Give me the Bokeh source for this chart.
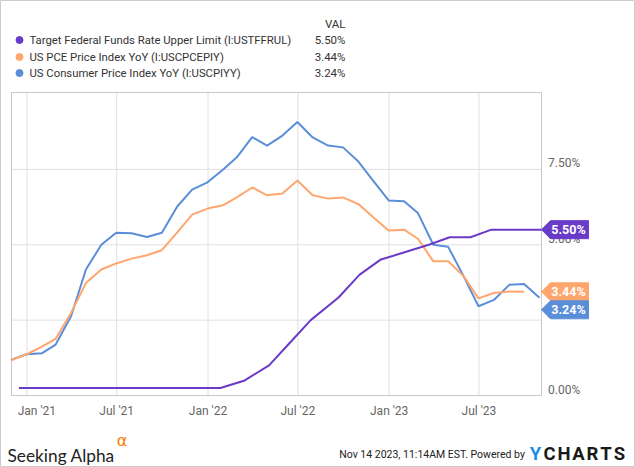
import pandas as pd
from bokeh.plotting import figure
from bokeh.models import Range1d
from bokeh.core.properties import value
from bokeh.embed import file_html
from bokeh.resources import INLINE

# ---------------- data ----------------
cpi_values = [1.18, 1.37, 1.40, 1.69, 2.63, 4.18, 5.00, 5.40, 5.38, 5.26, 5.40, 6.27,
              6.83, 7.07, 7.49, 7.90, 8.57, 8.29, 8.62, 9.07, 8.56, 8.29, 8.23, 7.76,
              7.12, 6.47, 6.44, 6.05, 5.00, 4.93, 3.96, 2.96, 3.17, 3.67, 3.70, 3.24]
pce_values = [1.17, 1.36, 1.62, 1.88, 2.74, 3.73, 4.18, 4.38, 4.54, 4.65, 4.82, 5.41,
              6.00, 6.20, 6.31, 6.57, 6.90, 6.64, 6.70, 7.13, 6.64, 6.53, 6.57, 6.35,
              5.91, 5.47, 5.50, 5.20, 4.45, 4.45, 3.96, 3.22, 3.40, 3.45, 3.44]
month_ends = pd.date_range(start="2020-12-01", periods=36, freq="MS") - pd.Timedelta(days=1)
cpi_dates = list(month_ends)
pce_dates = list(month_ends[:35])

fed_dates = ["2020-12-16", "2021-01-27", "2021-03-17", "2021-04-28", "2021-06-16",
             "2021-07-28", "2021-09-22", "2021-11-03", "2021-12-15", "2022-01-26",
             "2022-03-16", "2022-05-04", "2022-06-15", "2022-07-27", "2022-09-21",
             "2022-11-02", "2022-12-14", "2023-02-01", "2023-03-22", "2023-05-03",
             "2023-06-14", "2023-07-26", "2023-09-20", "2023-11-01"]
fed_values = [0.25, 0.25, 0.25, 0.25, 0.25, 0.25, 0.25, 0.25, 0.25, 0.25,
              0.50, 1.00, 1.75, 2.50, 3.25, 4.00, 4.50, 4.75, 5.00, 5.25,
              5.25, 5.50, 5.50, 5.50]

series_names = ["Target Federal Funds Rate Upper Limit (I:USTFFRUL)",
                "US PCE Price Index YoY (I:USCPCEPIY)",
                "US Consumer Price Index YoY (I:USCPIYY)"]
series_last = ["5.50%", "3.44%", "3.24%"]

y_ticks = [0, 2.5, 5, 7.5]
y_tick_labels = ["0.00%", "2.50%", "5.00%", "7.50%"]
x_tick_dates = ["2021-01-01", "2021-07-01", "2022-01-01", "2022-07-01", "2023-01-01", "2023-07-01"]
x_tick_labels = ["Jan '21", "Jul '21", "Jan '22", "Jul '22", "Jan '23", "Jul '23"]

PURPLE = "#6a3bc9"
ORANGE = "#ffa66e"
BLUE = "#5b8ed9"
GRID = "#e0e0e0"
TXT = "Roboto"


def ms(d):
    return pd.Timestamp(d).value / 1e6


# ---------------- layout (canvas pixels) ----------------
W, H = 635, 467
PL, PR, PT, PB = 11, 541, 92, 395             # plot area inside the canvas
XA, XB = ms("2020-12-01"), ms("2023-11-04")   # dates at plot-area left / right
YA, YB = 0.0, 10.05                           # values at plot-area bottom / top
kx = (XB - XA) / (PR - PL)
ky = (YB - YA) / (PB - PT)


def ax(px):
    return XA + (px - PL) * kx


def ay(py):
    return YA + (PB - py) * ky


def py_of(v):
    return PB - (v - YA) / ky


p = figure(width=W, height=H, output_backend="svg", toolbar_location=None,
           x_axis_location=None, y_axis_location=None,
           x_range=Range1d(ax(0), ax(W)), y_range=Range1d(ay(H), ay(0)),
           min_border=0)
p.xgrid.visible = False
p.ygrid.visible = False
p.outline_line_color = "#cccccc"
p.outline_line_width = 1
p.background_fill_color = "white"
p.border_fill_color = "white"

# grid lines and plot-area border
gx = [ms(d) for d in x_tick_dates]
p.segment(x0=gx, y0=[YA] * len(gx), x1=gx, y1=[YB] * len(gx), line_color=GRID, line_width=1)
gy = y_ticks[1:]
p.segment(x0=[XA] * len(gy), y0=gy, x1=[XB] * len(gy), y1=gy, line_color=GRID, line_width=1)
p.quad(left=[XA], right=[XB], bottom=[YA], top=[YB], fill_color=None,
       line_color="#c8c8c8", line_width=1)

# series
p.line([ms(d) for d in cpi_dates], cpi_values, line_color=BLUE, line_width=2)
p.line([ms(d) for d in pce_dates], pce_values, line_color=ORANGE, line_width=2)
p.line([ms(d) for d in fed_dates] + [XB], fed_values + [fed_values[-1]],
       line_color=PURPLE, line_width=2)

# y tick labels (right side, sitting just above their grid line)
p.text(x=[XB] * len(y_ticks), y=y_ticks, text=y_tick_labels, x_offset=6.5, y_offset=-6,
       text_font=value(TXT), text_font_size="12px", text_color="#666666",
       text_align="left", text_baseline="middle")

# x tick labels
p.text(x=gx, y=[YA] * len(gx), text=x_tick_labels,
       x_offset=[10, 0, 0, 0, 0, 0], y_offset=15,
       text_font=value(TXT), text_font_size="12px", text_color="#666666",
       text_align="center", text_baseline="middle")

# value tags on the right
tag_vals = [fed_values[-1], pce_values[-1], cpi_values[-1]]
tag_cols = [PURPLE, ORANGE, BLUE]
centers = []
for v in tag_vals:
    c = py_of(v)
    for prev in centers:
        if abs(c - prev) < 18:
            c = prev + 18
    centers.append(c)
for c, col, t in zip(centers, tag_cols, series_last):
    xs = [ax(PR), ax(PR + 9), ax(588), ax(588), ax(PR + 9)]
    ys = [ay(c), ay(c - 9), ay(c - 9), ay(c + 9), ay(c + 9)]
    p.patch(xs, ys, fill_color=col, line_color=col, line_width=1)
    p.text(x=[ax(568)], y=[ay(c)], text=[t], text_font=value(TXT), text_font_size="12.5px",
           text_font_style="bold", text_color="white",
           text_align="center", text_baseline="middle")

# legend
leg_y = [39.5, 56.5, 72.5]
p.scatter(x=[ax(19)] * 3, y=[ay(v) for v in leg_y], size=7, marker="circle",
          fill_color=tag_cols, line_color=tag_cols)
p.text(x=[ax(29)] * 3, y=[ay(v) for v in leg_y], text=series_names,
       text_font=value(TXT), text_font_size="11.3px", text_color="#333333",
       text_align="left", text_baseline="middle")
p.text(x=[ax(345)] * 4, y=[ay(v) for v in [23.5] + leg_y], text=["VAL"] + series_last,
       text_font=value(TXT), text_font_size="11.5px", text_color="#333333",
       text_align="right", text_baseline="middle")

# footer
p.text(x=[ax(7)], y=[ay(455)], text=["Seeking Alpha"], text_font=value("Lato"),
       text_font_size="17.3px", text_color="#222222",
       text_align="left", text_baseline="alphabetic")
p.text(x=[ax(121.5)], y=[ay(440)], text=["\u03B1"], text_font=value("DejaVu Sans"),
       text_font_size="16px", text_color="#ff7a00",
       text_align="center", text_baseline="middle")
p.text(x=[ax(527)], y=[ay(453.5)], text=["Nov 14 2023, 11:14AM EST.  Powered by"],
       text_font=value(TXT), text_font_size="10.5px", text_color="#222222",
       text_align="right", text_baseline="middle")
logo_letters = ["Y", "C", "H", "A", "R", "T", "S"]
logo_x = [535, 549, 563.5, 578, 592, 605.5, 619]
logo_cols = ["#1a8fe6"] + ["#1a1a1a"] * 6
p.text(x=[ax(v) for v in logo_x], y=[ay(453.5)] * 7, text=logo_letters,
       text_font=value(TXT), text_font_size="18.5px", text_font_style="bold",
       text_color=logo_cols, text_align="center", text_baseline="middle")

open("out.html", "w").write(file_html(p, INLINE))
